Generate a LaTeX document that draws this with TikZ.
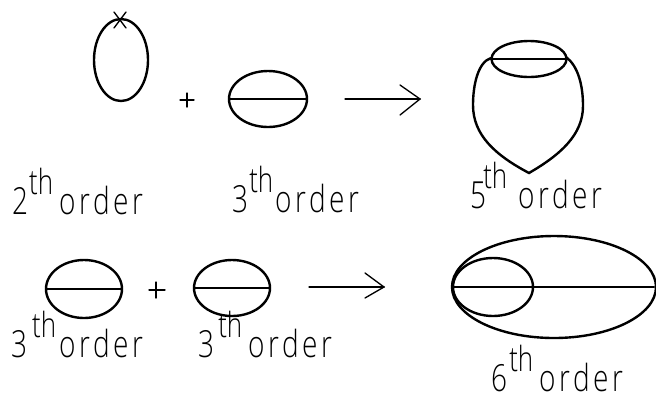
\documentclass[tikz,border=0pt]{standalone}
\usepackage{fontspec}
\setmainfont{Open Sans Light}
\newfontfamily\ordfont[LetterSpace=13]{Open Sans Light}
\newcommand{\ordlabel}[3]{\scalebox{0.75}[1]{\fontsize{28}{28}\selectfont #1\hspace{#2pt}\raisebox{15pt}{\fontsize{26}{26}\selectfont th}\hspace{#3pt}{\ordfont order}}}

\begin{document}
\begin{tikzpicture}[x=0.75pt, y=-0.75pt, line cap=round,
    loopline/.style={line width=1.8pt, black},
    thinline/.style={line width=1pt, black},
    every node/.style={inner sep=0pt, anchor=base west}]
    \useasboundingbox (0,0) rectangle (656,401);

    % first row
    \draw[loopline] (121,60) ellipse (27 and 41);
    \draw[thinline] (114,12) -- (126,28);
    \draw[thinline] (126,12) -- (114,28);
    \draw[thinline] (180,100) -- (194,100);
    \draw[thinline] (187,93) -- (187,107);

    \draw[loopline] (268,99) ellipse (39 and 28);
    \draw[loopline] (229,99) -- (307,99);

    \coordinate (arrowa) at (345,99);
    \coordinate (tipa) at (420,99);
    \draw[thinline] (arrowa) -- (tipa);
    \draw[thinline] (400,85) -- (tipa) -- (400,115);

    \draw[loopline] (529,59) ellipse (37.5 and 18);
    \draw[loopline] (491,59) -- (566,59);
    \draw[loopline] (491,58) .. controls (478,62) and (473,85) .. (473,105)
        .. controls (473,135) and (495,155) .. (529,173)
        .. controls (560,155) and (583,135) .. (583,106)
        .. controls (583,85) and (578,66) .. (566,57);

    % second row
    \draw[loopline] (84,289) ellipse (38 and 29);
    \draw[loopline] (46,289) -- (122,289);
    \draw[thinline] (149,290) -- (165,290);
    \draw[thinline] (156,282) -- (156,298);
    \draw[loopline] (232,288) ellipse (38 and 28);
    \draw[loopline] (194,288) -- (270,288);

    \coordinate (arrowb) at (309,287);
    \coordinate (tipb) at (384,287);
    \draw[thinline] (arrowb) -- (tipb);
    \draw[thinline] (365,273) -- (tipb) -- (365,298);

    \draw[loopline] (554,287) ellipse (102 and 51);
    \draw[loopline] (493,287) ellipse (40 and 29);
    \draw[loopline] (453,287) -- (654,287);

    % labels
    \node (lba) at (12,214) {\ordlabel{2}{1}{6}};
    \node (lbb) at (232,212) {\ordlabel{3}{1}{2}};
    \node (lbc) at (470,208) {\ordlabel{5}{-3}{11}};
    \node (lbd) at (11,357) {\ordlabel{3}{5}{3}};
    \node (lbe) at (198,357) {\ordlabel{3}{4}{6}};
    \node (lbf) at (491,391) {\ordlabel{6}{2}{6}};
\end{tikzpicture}
\end{document}
